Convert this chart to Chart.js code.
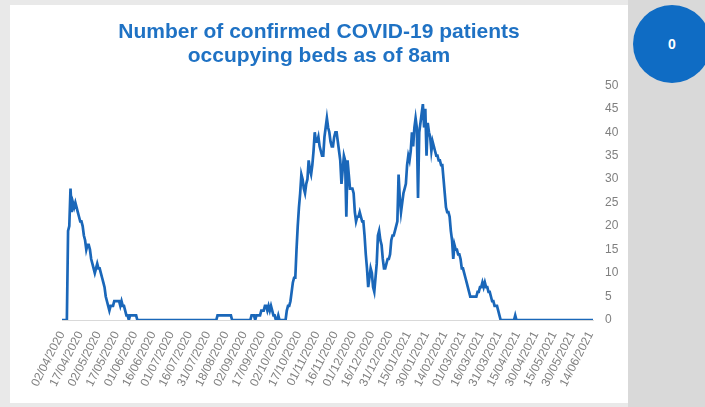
<!DOCTYPE html>
<html>
<head>
<meta charset="utf-8">
<script src="https://cdn.jsdelivr.net/npm/chart.js@4/dist/chart.umd.min.js"></script>
<style>
  html, body { margin: 0; padding: 0; }
  body { width: 705px; height: 407px; background: #e9e9e9; position: relative; overflow: hidden; font-family: "Liberation Sans", Arial, sans-serif; }
  #panel { position: absolute; left: 10px; top: 5px; width: 618px; height: 398px; background: #ffffff; }
  #side { position: absolute; left: 628px; top: 0; width: 77px; height: 407px; background: #d9d9d9; }
  #badge { position: absolute; left: 633px; top: 5px; width: 78px; height: 78px; border-radius: 50%; background: #0f6cc4;
           color: #ffffff; font-weight: bold; font-size: 14px; display: flex; align-items: center; justify-content: center; }
  canvas { position: absolute; left: 0; top: 0; }
</style>
</head>
<body>
<div id="side"></div>
<div id="panel"><canvas id="beds" width="618" height="398"></canvas></div>
<div id="badge">0</div>
<script>
// Daily bed occupancy from 02/04/2020; three August days have no report.
const firstDay = '2020-04-02';
const missingDays = ['2020-08-15', '2020-08-16', '2020-08-17'];
const tickEvery = 15;
const yTicks = { min: 0, max: 50, step: 5 };
const titleLines = ['Number of confirmed COVID-19 patients', 'occupying beds as of 8am'];

const occupiedBeds = [
  0, 0, 0, 0, 0,
  19, 20, 28, 23, 25, 24, 25, 24, 23, 22, 21, 21, 20, 18, 17, 15,
  16, 16, 15, 13, 12, 11, 10, 11, 12, 11, 11, 10, 9, 8, 7, 5, 4, 3, 2, 3,
  3, 3, 4, 4, 4, 4, 4, 3, 4, 3, 3, 2, 1, 1, 0, 1, 1, 1, 1, 1, 1,
  0, 0, 0, 0, 0, 0, 0, 0, 0, 0, 0, 0, 0, 0, 0, 0, 0, 0, 0, 0, 0, 0,
  0, 0, 0, 0, 0, 0, 0, 0, 0, 0, 0, 0, 0, 0, 0, 0, 0, 0, 0, 0, 0, 0,
  0, 0, 0, 0, 0, 0, 0, 0, 0, 0, 0, 0, 0, 0, 0, 0, 0, 0, 0, 0, 0, 0,
  1, 1, 1, 1, 1, 1, 1, 1, 1, 1, 1, 1,
  0, 0, 0, 0, 0, 0, 0, 0, 0, 0, 0, 0, 0, 0, 0, 0,
  1, 1, 1, 0, 1, 1, 1, 1, 2, 2, 2, 3, 3, 2, 3, 2, 3, 2, 1, 1, 0, 0, 1, 0, 0, 0, 0, 0,
  0, 2, 3, 3, 4, 6, 8, 9, 9, 15, 20, 24, 27, 31, 30, 28, 27, 29, 30, 34, 32, 31, 33,
  36, 40, 38, 38, 39, 37, 36, 35, 35, 39, 41, 43, 41, 40, 38, 37, 37, 39, 40, 40, 38,
  36, 34, 29, 32, 35, 34, 22, 34, 31, 28, 28, 28, 27, 23, 21, 22, 22, 23, 22, 21, 21,
  18, 14, 11, 7,
  9, 11, 10, 7, 6, 9, 12, 18, 19, 17, 16, 13, 11, 11, 12, 13, 13, 14, 17, 18,
  18, 19, 20, 21, 31, 26, 23, 25, 27, 28, 29, 33, 35, 34, 36, 40, 37, 41, 43, 41,
  26, 40, 42, 44, 46, 41, 45, 35, 42, 40, 39, 36, 38, 37, 36, 35, 35, 34, 34, 33,
  33, 30, 27, 24, 23, 23, 22, 19, 17, 13, 16, 15, 15, 14, 14, 13, 11, 11,
  10, 9, 8, 7, 6, 5, 5, 5, 5, 5, 5, 6, 6, 7, 7, 8, 7, 8, 7, 7,
  6, 6, 5, 4, 4, 3, 3, 3, 2, 1,
  0, 0, 0, 0, 0, 0, 0, 0, 0, 0, 0, 0,
  1,
  0, 0, 0, 0, 0, 0, 0, 0, 0, 0, 0, 0, 0, 0, 0, 0,
  0, 0, 0, 0, 0, 0, 0, 0, 0, 0, 0, 0, 0, 0, 0, 0,
  0, 0, 0, 0, 0, 0, 0, 0, 0, 0, 0, 0, 0, 0, 0, 0,
  0, 0, 0, 0, 0, 0, 0, 0, 0, 0, 0, 0, 0, 0, 0, 0
];

// One dd/mm/yyyy category per reported day.
function reportDays(start, count, skip) {
  const out = [];
  const d = new Date(start + 'T00:00:00Z');
  while (out.length < count) {
    const iso = d.toISOString().slice(0, 10);
    if (!skip.includes(iso)) {
      out.push(iso.slice(8, 10) + '/' + iso.slice(5, 7) + '/' + iso.slice(0, 4));
    }
    d.setUTCDate(d.getUTCDate() + 1);
  }
  return out;
}
const dayLabels = reportDays(firstDay, occupiedBeds.length, missingDays);

const font = '"Liberation Sans", Arial, sans-serif';

new Chart(document.getElementById('beds'), {
  type: 'line',
  data: {
    labels: dayLabels,
    datasets: [{
      data: occupiedBeds,
      borderColor: '#1a67b9',
      borderWidth: 2.7,
      pointRadius: 0,
      tension: 0,
      fill: false
    }]
  },
  options: {
    responsive: false,
    animation: false,
    layout: { padding: 0 },
    plugins: {
      legend: { display: false },
      tooltip: { enabled: false },
      title: {
        display: true,
        text: titleLines,
        color: '#1f72c4',
        font: { family: font, size: 21, weight: 'bold', lineHeight: 1.15 },
        padding: { top: 15, bottom: 17 }
      }
    },
    scales: {
      x: {
        grid: { display: false, drawTicks: false },
        border: { color: '#d9d9d9', width: 1 },
        ticks: {
          autoSkip: false,
          minRotation: 63,
          maxRotation: 63,
          color: '#7f7f7f',
          font: { family: font, size: 12 },
          padding: 9
        },
        afterBuildTicks: (scale) => {
          scale.ticks = scale.ticks.filter(t => t.value % tickEvery === 0);
        },
        afterFit: (scale) => {
          // room on the left for the rotated first date, leaving the title centred on the panel
          scale.height = 83;
          scale.paddingLeft = 52;
        }
      },
      y: {
        position: 'right',
        min: yTicks.min,
        max: yTicks.max,
        grid: { display: false, drawTicks: false },
        border: { display: false },
        ticks: {
          stepSize: yTicks.step,
          color: '#7f7f7f',
          font: { family: font, size: 12 },
          padding: 12
        },
        afterFit: (scale) => { scale.width = 35; }
      }
    }
  }
});
</script>
</body>
</html>
